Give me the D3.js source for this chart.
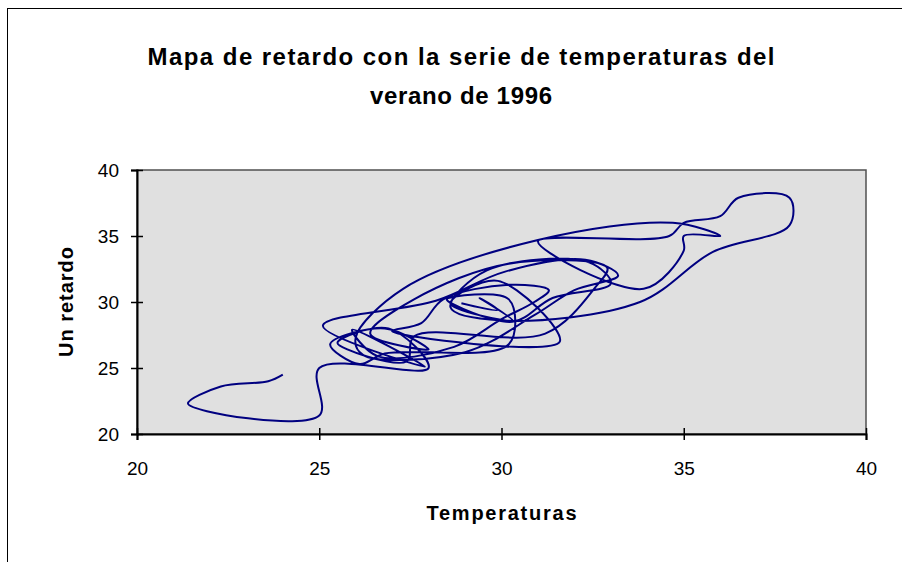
<!DOCTYPE html>
<html>
<head>
<meta charset="utf-8">
<script src="https://cdn.jsdelivr.net/npm/d3@7"></script>
<style>
  body { margin: 0; background: #fff; }
  svg { display: block; font-family: "Liberation Sans", Arial, sans-serif; }
</style>
</head>
<body>
<svg id="chart" width="902" height="562"></svg>
<script>
// daily temperatures, summer 1996
const temps = [
  28.9, 29.9, 29.4, 30.3, 28.6, 29.9, 31.6, 27.0, 27.8, 28.4,
  30.2, 31.3, 30.9, 30.0, 28.7, 26.6, 25.9, 27.9, 25.1, 28.2,
  30.1, 32.3, 33.2, 32.0, 30.9, 29.0, 26.2, 26.0, 27.3, 31.0,
  34.7, 36.0, 35.0, 35.0, 33.9, 31.0, 34.6, 35.0, 36.0, 36.5,
  37.9, 37.9, 35.8, 33.8, 30.0, 28.6, 29.6, 32.4, 33.0, 31.4,
  30.3, 28.5, 30.2, 30.2, 26.8, 26.1, 25.3, 26.8, 28.0, 26.4,
  27.6, 30.2, 32.9, 32.6, 31.2, 27.6, 27.4, 25.5, 26.9, 28.0,
  25.0, 25.0, 21.4, 22.3, 23.6, 24.0, 24.5
];
const xTicks = [20, 25, 30, 35, 40];
const yTicks = [20, 25, 30, 35, 40];
const titleLines = ["Mapa de retardo con la serie de temperaturas del", "verano de 1996"];
const xTitle = "Temperaturas";
const yTitle = "Un retardo";

// lag pairs: (T(t), T(t+1))
const pairs = d3.range(temps.length - 1).map(i => [temps[i], temps[i + 1]]);

const svg = d3.select("#chart");

// chart frame
svg.append("rect")
  .attr("x", 7.5).attr("y", 8.5)
  .attr("width", 1000).attr("height", 1000)
  .attr("fill", "#fff").attr("stroke", "#000").attr("stroke-width", 1);

// title (Excel spreads the letters a little)
const titleWidths = [627, 182];
svg.selectAll(".title")
  .data(titleLines)
  .join("text")
  .attr("class", "title")
  .attr("x", 461)
  .attr("y", (d, i) => 65 + i * 39)
  .attr("text-anchor", "middle")
  .attr("font-size", 24)
  .attr("font-weight", "bold")
  .attr("textLength", (d, i) => titleWidths[i])
  .attr("lengthAdjust", "spacing")
  .text(d => d);

const x = d3.scaleLinear().domain([20, 40]).range([137, 866]);
const y = d3.scaleLinear().domain([20, 40]).range([434, 170]);

// plot area
svg.append("rect")
  .attr("x", x(20)).attr("y", y(40))
  .attr("width", x(40) - x(20)).attr("height", y(20) - y(40))
  .attr("fill", "#e0e0e0").attr("stroke", "#505050").attr("stroke-width", 1.5);

// the lag curve
const line = d3.line()
  .x(d => x(d[0]))
  .y(d => y(d[1]))
  .curve(d3.curveCatmullRom.alpha(0.5));

svg.append("path")
  .datum(pairs)
  .attr("d", line)
  .attr("fill", "none")
  .attr("stroke", "#000080")
  .attr("stroke-width", 2)
  .attr("stroke-linejoin", "round");

// axes
const xAxis = svg.append("g")
  .attr("transform", `translate(0,${y(20)})`)
  .call(d3.axisBottom(x).tickValues(xTicks).tickSize(6).tickPadding(22));
const yAxis = svg.append("g")
  .attr("transform", `translate(${x(20)},0)`)
  .call(d3.axisLeft(y).tickValues(yTicks).tickSize(6).tickPadding(12));

[xAxis, yAxis].forEach(g => {
  g.select(".domain").attr("stroke", "#000").attr("stroke-width", 2);
  g.selectAll(".tick line").attr("stroke", "#000").attr("stroke-width", 1.5);
  g.selectAll(".tick text")
    .attr("font-family", "\"Liberation Sans\", Arial, sans-serif")
    .attr("font-size", 19).attr("fill", "#000");
});
// ticks cross the axis lines
xAxis.selectAll(".tick line").attr("y1", -6).attr("y2", 6);
yAxis.selectAll(".tick line").attr("x1", -6).attr("x2", 6);

// axis titles
svg.append("text")
  .attr("x", (x(20) + x(40)) / 2)
  .attr("y", 520)
  .attr("text-anchor", "middle")
  .attr("font-size", 20).attr("font-weight", "bold")
  .attr("textLength", 150).attr("lengthAdjust", "spacing")
  .text(xTitle);

svg.append("text")
  .attr("transform", `translate(73,${(y(20) + y(40)) / 2}) rotate(-90)`)
  .attr("text-anchor", "middle")
  .attr("font-size", 20).attr("font-weight", "bold")
  .attr("textLength", 110).attr("lengthAdjust", "spacing")
  .text(yTitle);
</script>
</body>
</html>
